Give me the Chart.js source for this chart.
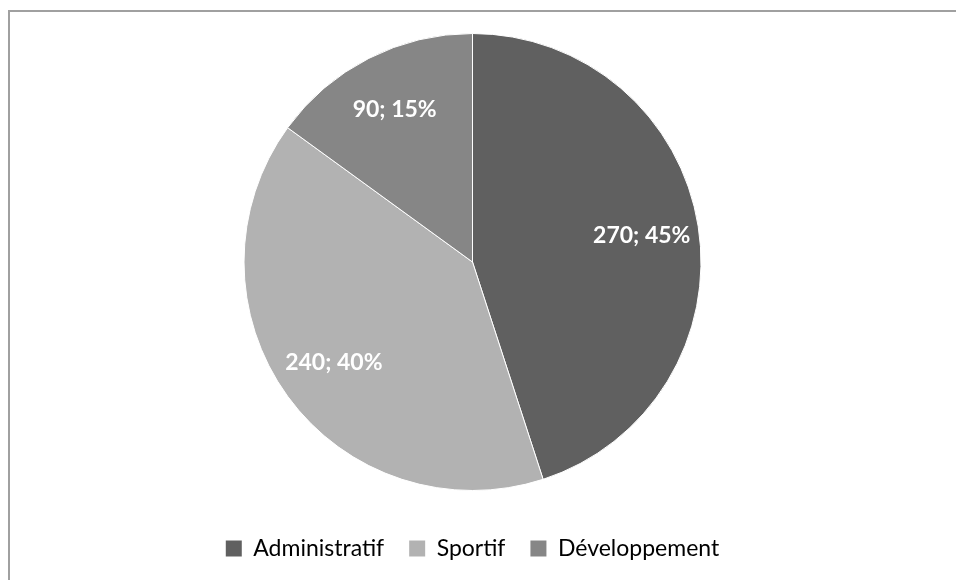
<!DOCTYPE html>
<html>
<head>
<meta charset="utf-8">
<script src="https://cdn.jsdelivr.net/npm/chart.js@4.4.1/dist/chart.umd.min.js"></script>
<style>
  html, body { margin: 0; padding: 0; background: #fff; overflow: hidden; }
  #frame { position: absolute; left: 8px; top: 10px; width: 1000px; height: 1000px;
           border-top: 2px solid #a0a0a0; border-left: 2px solid #a0a0a0; box-sizing: border-box; }
  #wrap { position: absolute; left: 0; top: 0; width: 956px; height: 600px; }
</style>
</head>
<body>
<div id="frame"></div>
<div id="wrap"><canvas id="pie" width="956" height="600"></canvas></div>
<script>
const categories = ["Administratif", "Sportif", "Développement"];
const valeurs = [270, 240, 90];
const couleurs = ["#606060", "#b2b2b2", "#868686"];

// étiquettes "valeur; pourcentage" dans chaque part
const sliceLabels = {
  id: "sliceLabels",
  afterDatasetsDraw(chart) {
    const ctx = chart.ctx;
    const meta = chart.getDatasetMeta(0);
    const total = valeurs.reduce((a, b) => a + b, 0);
    ctx.save();
    ctx.font = "bold 23px Lato";
    ctx.fillStyle = "#ffffff";
    ctx.textAlign = "center";
    ctx.textBaseline = "middle";
    meta.data.forEach((arc, i) => {
      const p = arc.getProps(["x", "y", "startAngle", "endAngle", "outerRadius"], true);
      const mid = (p.startAngle + p.endAngle) / 2;
      const r = p.outerRadius * 0.75;
      const txt = valeurs[i] + "; " + Math.round(valeurs[i] / total * 100) + "%";
      ctx.fillText(txt, p.x + Math.cos(mid) * r, p.y + Math.sin(mid) * r);
    });
    ctx.restore();
  }
};

new Chart(document.getElementById("pie").getContext("2d"), {
  type: "pie",
  data: {
    labels: categories,
    datasets: [{
      data: valeurs,
      backgroundColor: couleurs,
      borderColor: "#ffffff",
      borderWidth: 1,
      radius: 228.5
    }]
  },
  options: {
    responsive: false,
    animation: false,
    layout: { padding: { left: 0, right: 11, top: 12, bottom: 30 } },
    plugins: {
      tooltip: { enabled: false },
      legend: {
        position: "bottom",
        labels: {
          boxWidth: 16,
          boxHeight: 16,
          padding: 25,
          color: "#000000",
          font: { family: "Lato", size: 23 },
          generateLabels(chart) {
            return categories.map((c, i) => ({
              text: c,
              fillStyle: couleurs[i],
              strokeStyle: couleurs[i],
              lineWidth: 0,
              index: i,
              hidden: false
            }));
          }
        }
      }
    }
  },
  plugins: [sliceLabels]
});
</script>
</body>
</html>
